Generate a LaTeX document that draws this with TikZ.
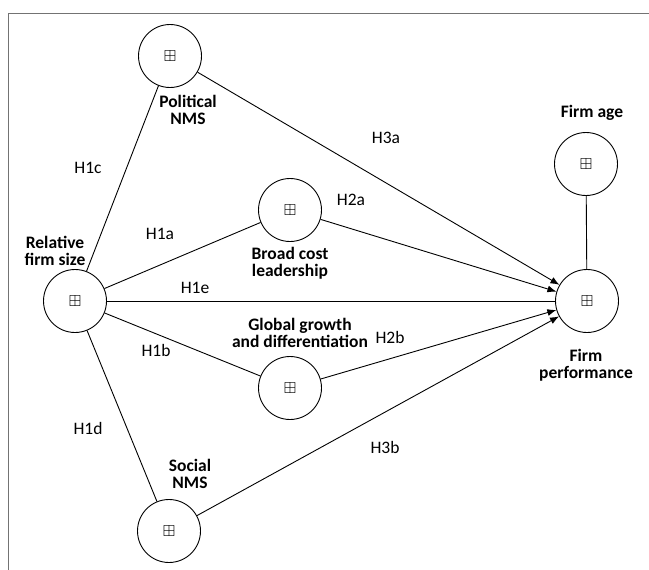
\documentclass[tikz,border=0pt]{standalone}
\usepackage{amssymb}
\usepackage{fontspec}
\setmainfont{Carlito}
\usetikzlibrary{arrows.meta,positioning}

\tikzset{
  construct/.style={draw, circle, minimum size=63pt, inner sep=0pt, line width=0.9pt,
    font=\fontsize{16}{16}\selectfont},
  cname/.style={align=center, font=\fontsize{17.5}{17}\selectfont\bfseries},
  hyp/.style={font=\fontsize{17.5}{17}\selectfont},
  link/.style={line width=0.9pt},
  effect/.style={line width=0.9pt, -{Latex[length=9pt,width=7pt]}}
}

\begin{document}
\begin{tikzpicture}[x=1pt,y=-1pt]
\useasboundingbox (0,0) rectangle (649,570);
% frame
\draw[black!55, line width=0.9pt] (8,570) -- (8,13) -- (649,13);
% constructs
\node[construct] (pol) at (170,56) {$\boxplus$};
\node[construct] (rel) at (75,301) {$\boxplus$};
\node[construct] (broad) at (290,210) {$\boxplus$};
\node[construct] (glob) at (290,388) {$\boxplus$};
\node[construct] (soc) at (169,531) {$\boxplus$};
\node[construct] (age) at (586,164) {$\boxplus$};
\node[construct] (fp) at (587,301) {$\boxplus$};
% construct names
\node[cname] (polname) at (188,110) {Political\\NMS};
\node[cname] (relname) at (55,251) {Relative\\firm size};
\node[cname] (broadname) at (290,263) {Broad cost\\leadership};
\node[cname] (globname) at (300,333) {Global growth\\and differentiation};
\node[cname] (socname) at (190,474) {Social\\NMS};
\node[cname] (agename) at (592,113) {Firm age};
\node[cname] (fpname) at (586,365) {Firm\\performance};
% paths
\draw[link] (rel) -- (pol);
\draw[link] (rel) -- (broad);
\draw[link] (rel) -- (glob);
\draw[link] (rel) -- (soc);
\draw[link] (rel) -- (fp);
\draw[link] (age) -- (fp);
\draw[effect] (pol) -- (fp);
\draw[effect] (broad) -- (fp);
\draw[effect] (glob) -- (fp);
\draw[effect] (soc) -- (fp);
% hypotheses
\node[hyp] (h3a) at (386,138) {H3a};
\node[hyp] (h1c) at (88,168) {H1c};
\node[hyp] (h1a) at (160,234) {H1a};
\node[hyp] (h2a) at (351,200) {H2a};
\node[hyp] (h1e) at (195,288) {H1e};
\node[hyp] (h2b) at (390,337) {H2b};
\node[hyp] (h1b) at (156,350) {H1b};
\node[hyp] (h1d) at (88,428) {H1d};
\node[hyp] (h3b) at (385,447) {H3b};
\end{tikzpicture}
\end{document}
